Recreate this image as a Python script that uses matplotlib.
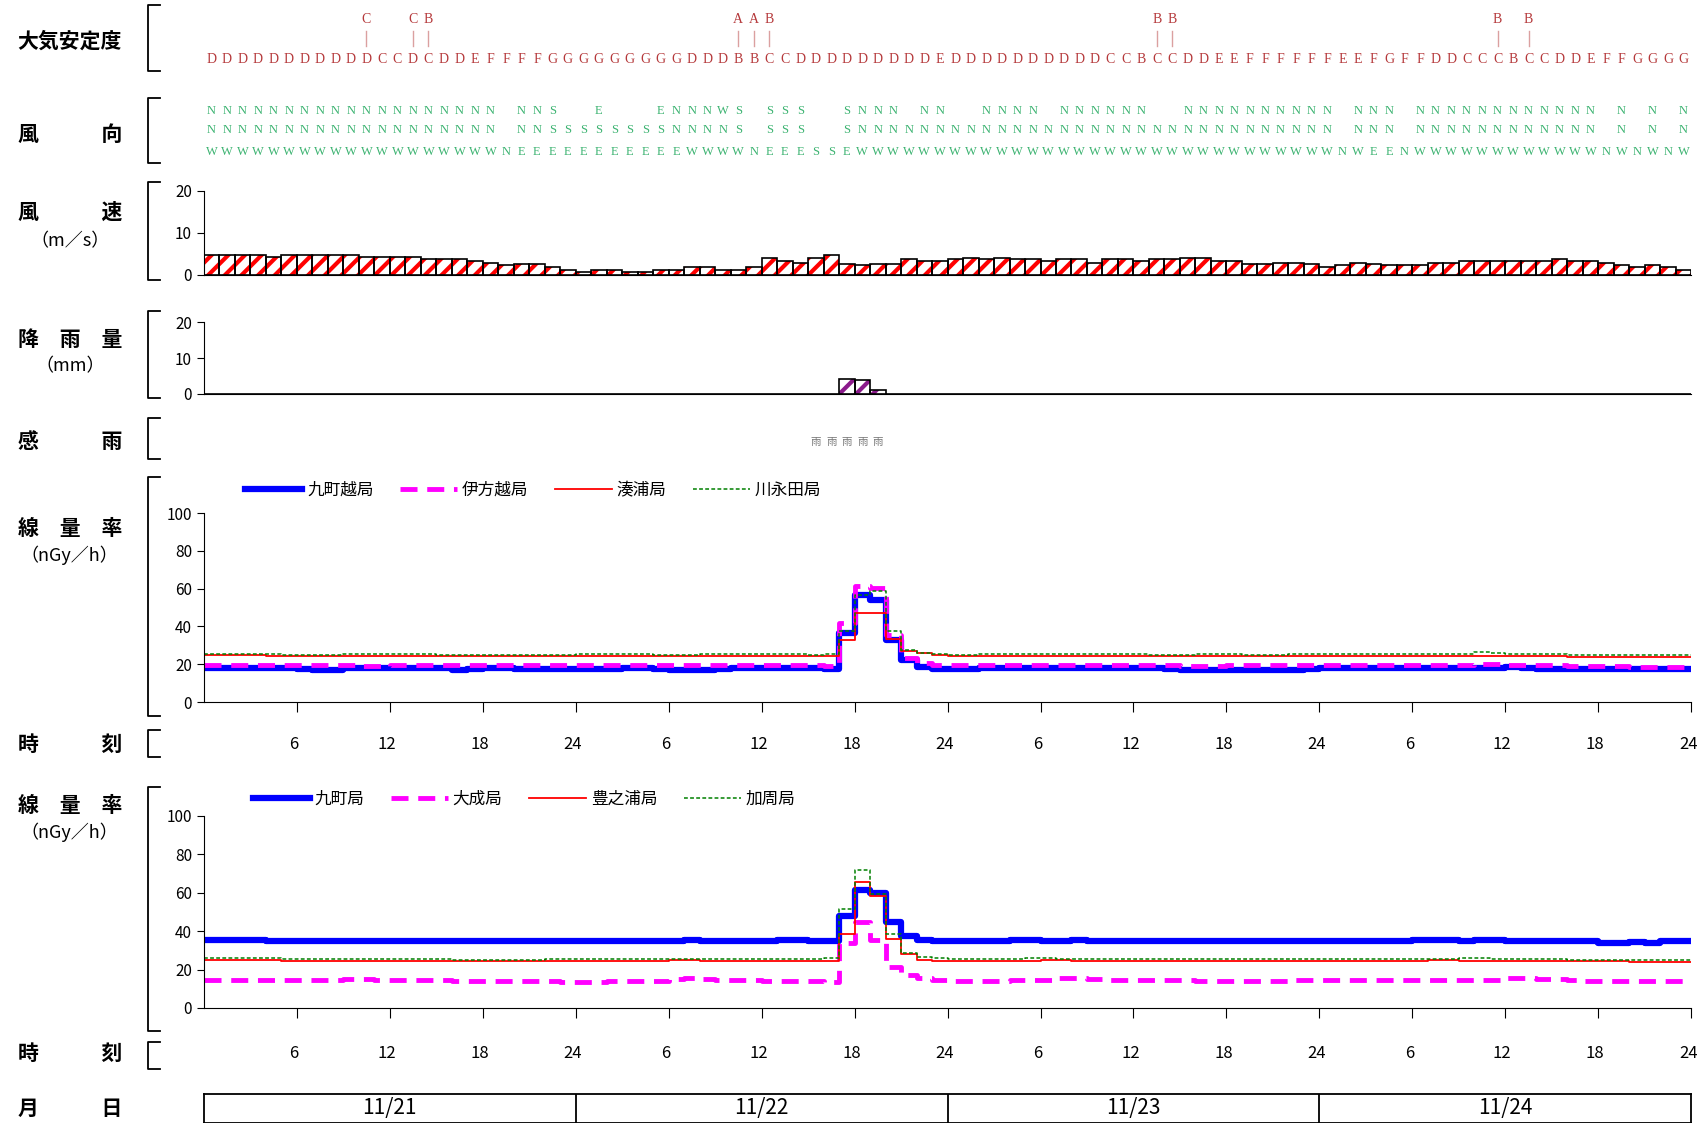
import numpy as np
import matplotlib
matplotlib.use('Agg')
import matplotlib.pyplot as plt

plt.rcParams['font.family'] = ['Noto Sans CJK JP', 'DejaVu Sans']
plt.rcParams['hatch.linewidth'] = 3.0

# ---- data (hourly, 4 days = 96 hours, 11/21 01:00 .. 11/24 24:00) ----
days = ['11/21', '11/22', '11/23', '11/24']

stability = list("DDDDDDDDDDDCCDCDDEFFFFGG"
                 "GGGGGGGDDDBBCCDDDDDDDDDE"
                 "DDDDDDDDDDCCBCCDDEEFFFFF"
                 "FEEFGFFDDCCCBCCDDEFFGGGG")
stab_sub_idx = [10, 13, 14, 34, 35, 36, 61, 62, 83, 85]
stab_sub = ['C', 'C', 'B', 'A', 'A', 'B', 'B', 'B', 'B', 'B']

wind_dir = (['NNW'] * 19 + ['N', 'NNE', 'NNE', 'SSE', 'SE']
            + ['SE', 'ESE', 'SE', 'SE', 'SE', 'ESE', 'NNE', 'NNW', 'NNW', 'WNW', 'SSW', 'N',
               'SSE', 'SSE', 'SSE', 'S', 'S', 'SSE', 'NNW', 'NNW', 'NNW', 'NW', 'NNW', 'NNW']
            + ['NW', 'NW', 'NNW', 'NNW', 'NNW', 'NNW', 'NW', 'NNW', 'NNW', 'NNW', 'NNW', 'NNW',
               'NNW', 'NW', 'NW', 'NNW', 'NNW', 'NNW', 'NNW', 'NNW', 'NNW', 'NNW', 'NNW', 'NNW']
            + ['NNW', 'N', 'NNW', 'NNE', 'NNE', 'N', 'NNW', 'NNW', 'NNW', 'NNW', 'NNW', 'NNW',
               'NNW', 'NNW', 'NNW', 'NNW', 'NNW', 'NNW', 'N', 'NNW', 'N', 'NNW', 'N', 'NNW'])

wind_speed = [4.6, 4.6, 4.6, 4.6, 4.2, 4.6, 4.6, 4.6, 4.6, 4.6, 4.2, 4.2,
              4.2, 4.2, 3.8, 3.8, 3.6, 3.2, 2.8, 2.2, 2.5, 2.5, 1.8, 1.1,
              0.7, 1.1, 1.1, 0.7, 0.7, 1.1, 1.1, 1.8, 1.8, 1.1, 1.1, 1.8,
              3.9, 3.2, 2.8, 3.9, 4.6, 2.5, 2.2, 2.5, 2.5, 3.6, 3.2, 3.2,
              3.6, 3.9, 3.6, 3.9, 3.6, 3.6, 3.2, 3.6, 3.6, 2.8, 3.6, 3.6,
              3.2, 3.6, 3.6, 3.9, 3.9, 3.2, 3.2, 2.5, 2.5, 2.8, 2.8, 2.5,
              1.8, 2.2, 2.8, 2.5, 2.2, 2.2, 2.2, 2.8, 2.8, 3.2, 3.2, 3.2,
              3.2, 3.2, 3.2, 3.6, 3.2, 3.2, 2.8, 2.2, 1.8, 2.2, 1.8, 1.1]

rain = [0] * 41 + [4.2, 3.8, 1.2] + [0] * 52
rain_sensed = [39, 40, 41, 42, 43]

# dose rate, group 1
names1 = ['九町越局', '伊方越局', '湊浦局', '川永田局']
kuchogoe = [18, 18, 18, 18, 18, 18, 17.5, 17, 17, 18, 18, 18, 18, 18, 18, 18, 17, 17.5, 18, 18, 17.5, 17.5, 17.5, 17.5,
            17.5, 17.5, 17.5, 18, 18, 17.5, 17, 17, 17, 17.5, 18, 18, 18, 18, 18, 18, 17.5, 36.7, 56.6, 54, 32.8, 22.2, 18.5, 17.4,
            17.4, 17.4, 18, 18, 18, 18, 18, 18, 18, 18, 18, 18, 18, 18, 17.5, 17, 17, 17, 17, 17, 17, 17, 17, 17.5,
            18, 18, 18, 18, 18, 18, 18, 18, 18, 18, 18, 18, 18.5, 18, 17.5, 17.5, 17.5, 17.5, 17.5, 17.5, 17.5, 17.5, 17.5, 17.5]
ikatagoe = [19.5, 19.5, 19.5, 19.5, 19.5, 19.5, 19.5, 19.5, 19.5, 19.5, 19, 19, 19.5, 19.5, 19.5, 19.5, 19.5, 19.5, 19.5, 19.5, 19.5, 19.5, 19.5, 19.5,
            19.5, 19.5, 19.5, 19.5, 19.5, 19.5, 19.5, 19.5, 19.5, 19.5, 19.5, 19.5, 19.5, 19.5, 19.5, 19.5, 19, 42, 61.4, 60.5, 35.4, 23.5, 20.6, 19.4,
            19.4, 19.5, 19.5, 19.5, 19.5, 19.5, 19.5, 19.5, 19.5, 19.5, 19.5, 19.5, 19.5, 19.5, 19.5, 19, 19, 19, 19.5, 19.5, 19.5, 19.5, 19.5, 19.5,
            19.5, 19.5, 19.5, 19.5, 19.5, 19.5, 19.5, 19.5, 19.5, 19.5, 20, 20, 19.5, 19.5, 19.5, 19.5, 19, 19, 19, 19, 18.5, 18.5, 18.5, 18.5]
minatoura = [25, 25, 25, 25, 24.5, 24.5, 24.5, 24.5, 24.5, 24.5, 24.5, 24.5, 24.5, 24.5, 24.5, 24.5, 24.5, 24.5, 24.5, 24.5, 24.5, 24.5, 24.5, 24.5,
             24.5, 24.5, 24.5, 24.5, 24.5, 24.5, 24.5, 24.5, 24.5, 24.5, 24.5, 24.5, 24.5, 24.5, 24.5, 24.5, 24.5, 32.8, 47.4, 47.4, 33.6, 27.2, 25.8, 24.7,
             24.5, 24.5, 24.5, 24.5, 24.5, 24.5, 24.5, 24.5, 24.5, 24.5, 24.5, 24.5, 24.5, 24.5, 24.5, 24.5, 24.5, 24.5, 24.5, 24.5, 24.5, 24.5, 24.5, 24.5,
             24.5, 24.5, 24.5, 24.5, 24.5, 24.5, 24.5, 24.5, 24.5, 24.5, 24.5, 24.5, 24.5, 24.5, 24.5, 24.5, 24, 24, 24, 24, 24, 24, 24, 24]
kawanagata = [25.4, 25.4, 25.4, 25.4, 25.4, 25, 25, 25, 25, 25.4, 25.4, 25.4, 25.4, 25.4, 25.4, 25, 25, 25, 25, 25, 25, 25, 25, 25,
              25.4, 25.4, 25.4, 25.4, 25.4, 25, 25, 25, 25.4, 25.4, 25.4, 25.4, 25.4, 25.4, 25.4, 25, 25.4, 37.4, 56.6, 58.6, 37.7, 27.8, 26, 25.4,
              25, 25, 25.4, 25.4, 25.4, 25.4, 25.4, 25.4, 25.4, 25.4, 25.4, 25.4, 25.4, 25, 25, 25, 25.4, 25.4, 25.4, 25, 25, 25, 25.4, 25.4,
              25.4, 25.4, 25.4, 25.4, 25.4, 25.4, 25.4, 25.4, 25.4, 25.4, 26.5, 26, 25.4, 25.4, 25.4, 25.4, 25, 25, 25, 25, 25, 25, 25, 25]

# dose rate, group 2
names2 = ['九町局', '大成局', '豊之浦局', '加周局']
kucho = [35.6, 35.6, 35.6, 35.6, 34.8, 34.8, 34.8, 34.8, 34.8, 34.8, 34.8, 34.8, 34.8, 34.8, 34.8, 34.8, 34.8, 34.8, 34.8, 34.8, 34.8, 34.8, 34.8, 34.8,
         34.8, 34.8, 34.8, 34.8, 34.8, 34.8, 34.8, 35.6, 34.8, 34.8, 34.8, 34.8, 34.8, 35.3, 35.3, 34.8, 34.8, 47.8, 61.3, 59.9, 44.8, 37.3, 35.3, 34.8,
         34.8, 34.8, 34.8, 34.8, 35.6, 35.6, 34.8, 34.8, 35.6, 34.8, 34.8, 34.8, 34.8, 34.8, 34.8, 34.8, 34.8, 34.8, 34.8, 34.8, 34.8, 34.8, 34.8, 34.8,
         34.8, 34.8, 34.8, 34.8, 34.8, 34.8, 35.6, 35.6, 35.6, 34.8, 35.3, 35.3, 34.8, 34.8, 34.8, 34.8, 34.8, 34.8, 33.6, 33.6, 34.2, 33.6, 34.8, 34.8]
taisei = [14.5, 14.5, 14.5, 14.5, 14.5, 14.5, 14.5, 14.5, 14.5, 15, 15, 14.5, 14.5, 14.5, 14.5, 14.5, 14, 14, 14, 14, 14, 14, 14, 13.5,
          13.5, 13.5, 14, 14, 14, 14, 15, 15.5, 15, 14.5, 14.5, 14.5, 14, 14, 14, 14, 13.5, 33.9, 44.8, 35.6, 21.4, 17.1, 15.4, 14.4,
          14, 14, 14, 14, 14.5, 14.5, 14.5, 15.5, 15.5, 15, 14.5, 14.5, 14.5, 14.5, 14.5, 14.5, 14, 14, 14, 14, 14, 14, 14.5, 14.5,
          14.5, 14.5, 14.5, 14.5, 14.5, 14.5, 14.5, 14.5, 14.5, 14.5, 14.5, 14.5, 15.5, 15.5, 15, 15, 14.5, 14, 14, 14, 14, 14, 14, 14]
toyonoura = [25, 25, 25, 25, 25, 24.5, 24.5, 24.5, 24.5, 24.5, 24.5, 24.5, 24.5, 24.5, 24.5, 24.5, 24.5, 24.5, 24.5, 24.5, 24.5, 24.5, 24.5, 24.5,
             24.5, 24.5, 24.5, 24.5, 24.5, 24.5, 25, 25, 24.5, 24.5, 24.5, 24.5, 24.5, 24.5, 24.5, 24.5, 24.5, 38.4, 65.6, 58.2, 36.1, 27.9, 24.9, 24.5,
             24.5, 24.5, 24.5, 24.5, 24.5, 24.5, 25, 25, 24.5, 24.5, 24.5, 24.5, 24.5, 24.5, 24.5, 24.5, 24.5, 24.5, 24.5, 24.5, 24.5, 24.5, 24.5, 24.5,
             24.5, 24.5, 24.5, 24.5, 24.5, 24.5, 24.5, 25, 25, 24.5, 24.5, 24.5, 24.5, 24.5, 24.5, 24.5, 24.5, 24.5, 24.5, 24.5, 24, 24, 24, 24]
kashu = [26, 26, 26, 26, 26, 25.5, 25.5, 25.5, 25.5, 25.5, 25.5, 25.5, 25.5, 25.5, 25.5, 25.5, 25, 25, 25, 25, 25, 25, 25.5, 25.5,
         25.5, 25.5, 25.5, 25.5, 25.5, 25.5, 25.5, 25.5, 25.5, 25.5, 25.5, 25.5, 25.5, 25.5, 25.5, 25.5, 26, 51.8, 71.7, 59.4, 38.4, 28.6, 26.4, 26,
         25.5, 25.5, 25.5, 25.5, 25.5, 26, 26, 25.5, 25.5, 25.5, 25.5, 25.5, 25.5, 25.5, 25.5, 25.5, 25.5, 25.5, 25.5, 25.5, 25.5, 25.5, 25.5, 25.5,
         25.5, 25.5, 25.5, 25.5, 25.5, 25.5, 25.5, 25.5, 25.5, 26, 26, 25.5, 25.5, 25.5, 25.5, 25.5, 25, 25, 25, 25, 25, 25, 25, 25]

time_ticks = list(range(6, 97, 6))
time_labels = ['6', '12', '18', '24'] * 4

# ---- layout: positions measured on a 1560 x 1035 grid ----
W, H = 1560.0, 1035.0
X0, X1 = 187, 1552
STAB_C = '#b5393b'
DIR_C = '#3cb371'
SERIF = 'Liberation Serif'

fig = plt.figure(figsize=(17, 11.23), dpi=100)


def add_ax(top, bottom):
    return fig.add_axes([X0 / W, 1 - bottom / H, (X1 - X0) / W, (bottom - top) / H])


# frame axes in grid pixels (labels and brackets)
frame = fig.add_axes([0, 0, 1, 1])
frame.set_xlim(0, W)
frame.set_ylim(H, 0)
frame.axis('off')

# overlay with hours on x and grid pixels on y (text rows)
over = fig.add_axes([X0 / W, 0, (X1 - X0) / W, 1])
over.set_xlim(0, 96)
over.set_ylim(H, 0)
over.axis('off')

labels = [('大気安定度', 38), ('風　　　向', 124), ('風　　　速', 196), ('降　雨　量', 313),
          ('感　　　雨', 407), ('線　量　率', 487), ('時　　　刻', 686), ('線　量　率', 742),
          ('時　　　刻', 971), ('月　　　日', 1022)]
for txt, y in labels:
    frame.text(64, y, txt, ha='center', va='center', fontsize=15, fontweight='bold')
for txt, y in [('（m／s）', 222), ('（mm）', 338), ('（nGy／h）', 512), ('（nGy／h）', 767)]:
    frame.text(64, y, txt, ha='center', va='center', fontsize=13)

brackets = [(5, 65), (90, 150), (168, 258), (287, 367), (385, 423), (440, 660),
            (673, 698), (725, 950), (960, 985)]
for top, bot in brackets:
    frame.plot([147, 136, 136, 147], [top, top, bot, bot], color='black', lw=1.3)

# stability row
for i, s in enumerate(stability):
    over.text(i + 0.5, 55, s, ha='center', va='center', fontsize=10,
              family=SERIF, color=STAB_C)
for i, s in zip(stab_sub_idx, stab_sub):
    over.text(i + 0.5, 18, s, ha='center', va='center', fontsize=10,
              family=SERIF, color=STAB_C)
    over.plot([i + 0.5, i + 0.5], [29, 42], color='#dba0a0', lw=1)

# wind direction (letters stacked, last letter on the bottom row)
row_y = [102, 120, 140]
for i, d in enumerate(wind_dir):
    rows = row_y[3 - len(d):]
    for ch, y in zip(d, rows):
        over.text(i + 0.5, y, ch, ha='center', va='center', fontsize=9,
                  family=SERIF, color=DIR_C)

# rain sensor
for i in rain_sensed:
    over.text(i + 0.5, 407, '雨', ha='center', va='center', fontsize=7.5, color='#777777')

# time labels
for y in (686, 971):
    for t, lab in zip(time_ticks, time_labels):
        over.text(t - 0.2, y, lab, ha='center', va='center', fontsize=12)


def style_axis(ax, ymax, yticks):
    ax.set_xlim(0, 96)
    ax.set_ylim(0, ymax)
    ax.set_yticks(yticks)
    ax.tick_params(axis='y', labelsize=11, length=5, direction='out')
    ax.spines['top'].set_visible(False)
    ax.spines['right'].set_visible(False)
    ax.patch.set_alpha(0)


hours = np.arange(96)

# wind speed
ax_ws = add_ax(176, 253)
ax_ws.bar(hours, wind_speed, width=1, align='edge', color='white', edgecolor='red',
          hatch='//', lw=0)
ax_ws.bar(hours, wind_speed, width=1, align='edge', fill=False, edgecolor='black', lw=1.2)
style_axis(ax_ws, 20, [0, 10, 20])
ax_ws.set_xticks([])

# rain
ax_rn = add_ax(297, 363)
ax_rn.bar(hours, rain, width=1, align='edge', color='white', edgecolor='#8b1a8b',
          hatch='//', lw=0)
ax_rn.bar(hours, rain, width=1, align='edge', fill=False, edgecolor='black', lw=1.2)
style_axis(ax_rn, 20, [0, 10, 20])
ax_rn.set_xticks([])

edges = np.arange(97)


def dose_panel(top, bottom, series, names, leg_x, leg_y):
    ax = add_ax(top, bottom)
    styles = [dict(color='#0000ff', lw=4.5, ls='-'),
              dict(color='#ff00ff', lw=3.5, ls=(0, (3.5, 2))),
              dict(color='#ff0000', lw=1.3, ls='-'),
              dict(color='#008000', lw=1.1, ls=(0, (2.5, 1.5)))]
    for vals, name, st in zip(series, names, styles):
        ax.step(edges, np.append(vals, vals[-1]), where='post', label=name, **st)
    style_axis(ax, 100, [0, 20, 40, 60, 80, 100])
    ax.set_xticks(time_ticks)
    ax.set_xticklabels([])
    ax.tick_params(axis='x', length=7, direction='out')
    ax.legend(loc='center left', bbox_to_anchor=(leg_x, leg_y), ncol=4, frameon=False,
              fontsize=12, handlelength=3.4, handletextpad=0.3, columnspacing=1.6,
              borderaxespad=0, borderpad=0)
    return ax


dose_panel(473, 647, [kuchogoe, ikatagoe, minatoura, kawanagata], names1, 0.028, 1.12)
dose_panel(752, 929, [kucho, taisei, toyonoura, kashu], names2, 0.033, 1.085)

# date boxes
ax_dt = add_ax(1008, 1035)
ax_dt.set_xlim(0, 96)
ax_dt.set_ylim(0, 1)
ax_dt.set_xticks([])
ax_dt.set_yticks([])
for sp in ax_dt.spines.values():
    sp.set_linewidth(1.3)
for b in (24, 48, 72):
    ax_dt.axvline(b, color='black', lw=1.3)
for k, d in enumerate(days):
    ax_dt.text(24 * k + 12, 0.5, d, ha='center', va='center', fontsize=15)

fig.savefig('out.png', dpi=100)
